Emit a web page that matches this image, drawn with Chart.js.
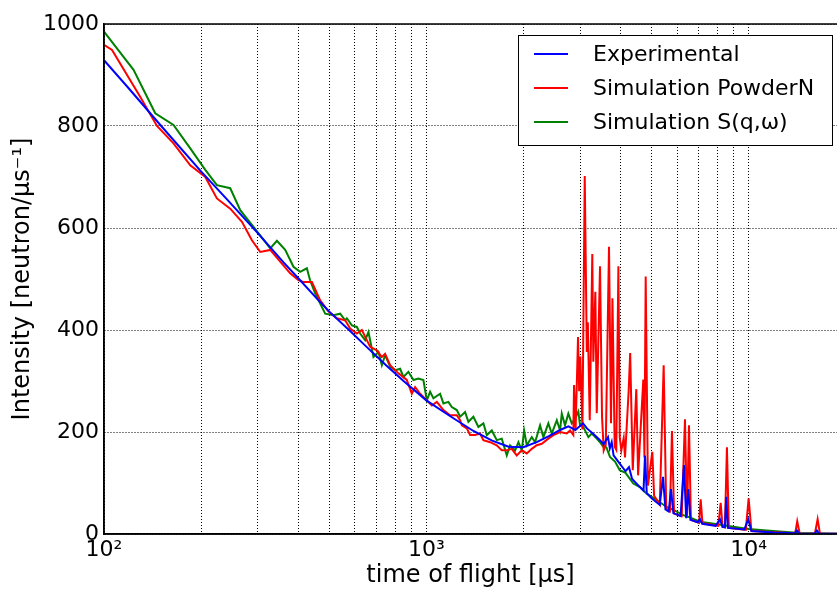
<!DOCTYPE html>
<html>
<head>
<meta charset="utf-8">
<script src="https://cdn.jsdelivr.net/npm/chart.js@4.4.1/dist/chart.umd.min.js"></script>
<style>
  html, body { margin: 0; padding: 0; background: #fff; }
  #wrap { width: 837px; height: 590px; }
</style>
</head>
<body>
<div id="wrap"><canvas id="c" width="837" height="590"></canvas></div>
<script>
// ---- data (time of flight in µs, intensity) ----
const seriesLabels = ['Experimental', 'Simulation PowderN', 'Simulation S(q,\u03c9)'];

const tExp = [100,120,150,200,240,300,360,400,460,500,580,660,750,850,1000,1200,1400,1600,1800,2000,2200,2400,2600,2760,2900,3064,3150,3300,3459,3550,3662,3710,3760,3810,3950,4150,4254,4350,4600,4720,4770,4830,5000,5300,5424,5520,5650,5742,5840,6150,6301,6400,6497,6600,6950,7063,7180,7900,8147,8300,8440,8521,8620,9700,9972,10200,12000,13900,14120,14350,16000,16290,16550,18800];
const yExp = [929,872,801,711,657,590,533,502,460,436,398,364,331,300,262,229,202,183,171,170,180,192,204,211,204,217,207,196,184,176,190,168,180,154,141,123,131,108,92,85,154,80,70,57,112,48,44,88,41,35,135,31,88,28,23,29,20,16,29,14,13,73,12,9,29,6,3,1.5,7,1,0.5,7,0.4,0.3];

const tPowder = [100,105.9,129.6,146,164.3,185.2,206.2,224,246.4,267.9,287.7,305.3,327.9,352.1,378.1,401.2,415.8,441.6,468.5,497.3,527.9,560.2,580.3,608.9,631,669.5,702.1,727.8,745,772.2,819.4,869.9,901.6,923.2,956.8,1003.6,1040,1078,1130,1185,1243,1273,1289,1336,1367,1417,1468,1503,1577,1654,1715,1777,1841,1908,1978,2050,2124,2201,2281,2391,2479,2600,2727,2792,2858,2873,2905,2956,2980,3005,3050,3101,3147,3170,3214,3273,3297,3345,3379,3459,3509,3551,3604,3688,3741,3780,3841,3885,3944,3982,4027,4097,4135,4245,4290,4370,4482,4540,4712,4750,4793,4870,5025,5090,5300,5450,5550,5700,5783,5870,6200,6346,6440,6531,6620,7020,7099,7190,8050,8189,8300,8440,8564,8680,9800,10000,10200,12000,13950,14150,14400,16050,16370,16650,18800];
const yPowder = [959,949,857,800,766,723,700,658,638,612,576,553,557,534,511,498,494,494,458,436,423,419,403,393,400,367,360,347,353,331,315,302,275,288,275,262,252,259,243,233,233,223,213,207,194,194,197,184,180,174,164,164,167,154,164,158,167,174,177,187,194,200,197,203,194,292,205,386,280,348,205,702,357,415,223,549,338,475,237,525,230,164,175,563,217,462,171,165,525,190,164,188,150,282,355,125,284,115,303,150,505,95,161,75,58,331,50,45,202,40,35,225,32,213,28,22,68,21,16,61,14,13,170,12,8,70,6,3.5,1.5,25,1,0.5,29,0.4,0.3];

const tSqw = [100,123.5,144.2,164.3,185.2,206.2,224,246.4,264.7,291,327.9,343.9,364.9,387.1,406.1,426,436.1,452,468.5,485.6,515.2,540.4,560,566.9,587.5,608.8,623.3,646,661.5,685.5,710.4,727.8,745.2,772.2,800.4,829.4,849.1,879.9,912,945.2,979.5,1003.6,1027.6,1052,1103.5,1129.8,1171,1199.7,1243.4,1273,1319.3,1350.7,1399.7,1450.8,1503.6,1540.4,1596.4,1654.4,1714.5,1776.8,1819,1886,1931,1978,2011,2050,2124,2175,2254,2308,2391,2450,2540,2600,2632,2694,2758,2826,2893,2962,2999,3069,3182,3261,3379,3459,3541,3620,3715,3850,3982,4150,4387,4600,4827,5200,5567,5900,6270,6600,7063,8000,8959,10000,11370,14420,18800];
const ySqw = [985,910,825,802,756,714,684,678,635,602,560,575,557,524,514,521,497,472,452,432,429,432,419,423,409,406,393,380,396,347,357,331,351,328,321,324,308,318,302,305,302,262,279,266,275,256,259,249,243,230,239,220,230,210,217,194,203,184,187,154,174,164,180,164,203,174,190,180,213,190,217,197,223,203,236,213,236,217,226,240,213,210,190,197,187,180,171,170,151,142,125,120,99,92,79,66,53,46,37,32,24,19,14,10,7,2,0.5];

const seriesColors = ['#0000ff', '#ff0000', '#008000'];

const xTickValues = [100,200,300,400,500,600,700,800,900,1000,2000,3000,4000,5000,6000,7000,8000,9000,10000];
const decadeTicks = [100, 1000, 10000];
const decadeLabels = ['10\u00b2', '10\u00b3', '10\u2074'];
const xMin = 100, xMax = 18800;
const yMin = 0, yMax = 1000, yStep = 200;

const xTitle = 'time of flight [\u03bcs]';
const yTitle = 'Intensity [neutron/\u03bcs\u207b\u00b9]';

// ---- build ----
function pts(ts, ys) { return ts.map((t, i) => ({ x: t, y: ys[i] })); }

const FONT = 'DejaVu Sans';

const framePlugin = {
  id: 'frame',
  afterDatasetsDraw(chart) {
    const { ctx, chartArea: a } = chart;
    ctx.save();
    ctx.strokeStyle = '#000';
    ctx.lineWidth = 1.5;
    ctx.strokeRect(a.left, a.top, a.right - a.left + 2, a.bottom - a.top);
    ctx.restore();
  },
  afterDraw(chart) {
    // legend box
    const { ctx } = chart;
    const bx = 518.5, by = 35.5, bw = 314, bh = 110;
    ctx.save();
    ctx.fillStyle = '#fff';
    ctx.fillRect(bx, by, bw, bh);
    ctx.strokeStyle = '#000';
    ctx.lineWidth = 1;
    ctx.strokeRect(bx, by, bw, bh);
    ctx.font = '22px "' + FONT + '"';
    ctx.textBaseline = 'middle';
    ctx.textAlign = 'left';
    chart.data.datasets.forEach((ds, i) => {
      const yy = 54 + i * 34;
      ctx.strokeStyle = ds.borderColor;
      ctx.lineWidth = 1.8;
      ctx.beginPath();
      ctx.moveTo(534, yy);
      ctx.lineTo(568, yy);
      ctx.stroke();
      ctx.fillStyle = '#000';
      ctx.fillText(ds.label, 593, yy + 1);
    });
    ctx.restore();
  }
};

new Chart(document.getElementById('c'), {
  type: 'line',
  data: {
    datasets: [
      { label: seriesLabels[0], data: pts(tExp, yExp), borderColor: seriesColors[0], backgroundColor: seriesColors[0] },
      { label: seriesLabels[1], data: pts(tPowder, yPowder), borderColor: seriesColors[1], backgroundColor: seriesColors[1] },
      { label: seriesLabels[2], data: pts(tSqw, ySqw), borderColor: seriesColors[2], backgroundColor: seriesColors[2] }
    ]
  },
  options: {
    responsive: false,
    animation: false,
    devicePixelRatio: 1,
    layout: { padding: { left: 0, right: 0, top: 24, bottom: 0 } },
    elements: {
      point: { radius: 0 },
      line: { borderWidth: 2, tension: 0 }
    },
    plugins: {
      legend: { display: false },
      tooltip: { enabled: false }
    },
    scales: {
      x: {
        type: 'logarithmic',
        min: xMin,
        max: xMax,
        afterBuildTicks(scale) {
          scale.ticks = xTickValues.map(v => ({ value: v, major: decadeTicks.includes(v) }));
        },
        afterFit(scale) { scale.height = 56; },
        ticks: {
          autoSkip: false,
          maxRotation: 0,
          minRotation: 0,
          padding: 3,
          color: '#000',
          font: { family: FONT, size: 22 },
          callback(value) {
            const k = decadeTicks.indexOf(value);
            return k >= 0 ? decadeLabels[k] : '';
          }
        },
        grid: {
          color: '#000',
          lineWidth: 1,
          drawTicks: false
        },
        border: { display: true, color: '#000', width: 1.5, dash: [1, 2] },
        title: {
          display: true,
          text: xTitle,
          color: '#000',
          font: { family: FONT, size: 24 },
          padding: { top: 0, bottom: 0 }
        }
      },
      y: {
        type: 'linear',
        min: yMin,
        max: yMax,
        afterFit(scale) { scale.width = 104; },
        ticks: {
          stepSize: yStep,
          padding: 5,
          color: '#000',
          font: { family: FONT, size: 22 },
          callback(value) { return String(value); }
        },
        grid: {
          color: '#000',
          lineWidth: 1,
          drawTicks: false
        },
        border: { display: true, color: '#000', width: 1.5, dash: [1, 2] },
        title: {
          display: true,
          text: yTitle,
          color: '#000',
          font: { family: FONT, size: 24 },
          padding: { top: 8, bottom: 0 }
        }
      }
    }
  },
  plugins: [framePlugin]
});
</script>
</body>
</html>
